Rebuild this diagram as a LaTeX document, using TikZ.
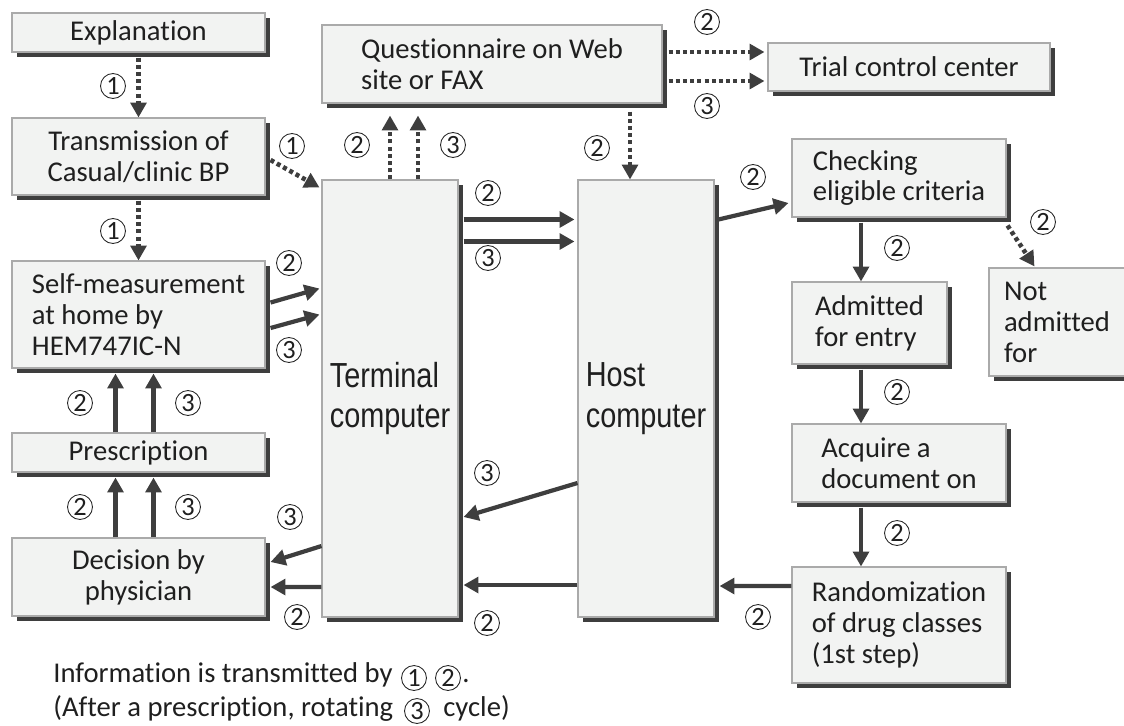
\documentclass[tikz,border=0pt]{standalone}
\usepackage{fontspec}
\setmainfont{Carlito}[Ligatures=NoCommon]
\newfontfamily\narrowfont[FakeStretch=0.83]{Liberation Sans}
\usetikzlibrary{arrows.meta, positioning, calc, shadows}
\definecolor{boxfill}{RGB}{242,243,242}
\definecolor{boxline}{RGB}{170,170,170}
\definecolor{linegray}{RGB}{62,62,62}
\newcommand{\pxu}{0.02cm}

\begin{document}
\begin{tikzpicture}[x=0.02cm, y=-0.02cm]
            \tikzstyle{box} = [draw=boxline, fill=boxfill, line width=0.6pt, align=left, inner sep=0pt, text=black!88, font=\fontsize{16.3}{17.6}\selectfont, drop shadow={shadow xshift=3pt, shadow yshift=-3pt, fill=linegray, opacity=1}]
            \tikzstyle{arr} = [draw=linegray, line width=2.4pt, -{Triangle[length=8.5pt, width=9pt]}]
            \tikzstyle{dotarr} = [arr, line width=2.6pt, dash pattern=on 2.3pt off 1.8pt]
            \tikzstyle{num} = [circle, draw=black!85, line width=0.5pt, inner sep=0pt, minimum size=14.2pt, text=black!88, font=\fontsize{15}{15}\selectfont]
            \tikzstyle{note} = [inner sep=0pt, text=black!88, font=\fontsize{16.3}{17.6}\selectfont]

            \useasboundingbox (0,0) rectangle (1124,725);

            % left column
            \node[box, align=center, minimum width=253*\pxu, minimum height=39*\pxu] (expl) at (138.5,32.5) {Explanation};
            \node[box, align=center, minimum width=253*\pxu, minimum height=77*\pxu] (trans) at (138.5,156.5) {Transmission of\\Casual/clinic BP};
            \node[box, minimum width=253*\pxu, minimum height=107*\pxu] (self) at (138.5,314.5) {Self-measurement\\at home by\\HEM747IC-N};
            \node[box, align=center, minimum width=253*\pxu, minimum height=39*\pxu] (presc) at (138.5,452.5) {Prescription};
            \node[box, align=center, minimum width=253*\pxu, minimum height=78*\pxu] (decis) at (138.5,577) {Decision by\\physician};

            % computers
            \node[box, minimum width=340*\pxu, minimum height=78*\pxu] (quest) at (492,64) {Questionnaire on Web\\site or FAX};
            \node[box, minimum width=136*\pxu, minimum height=437*\pxu, font=\narrowfont\fontsize{19.8}{23}\selectfont] (term) at (390,398.5) {Terminal\\computer};
            \node[box, minimum width=136*\pxu, minimum height=437*\pxu, font=\narrowfont\fontsize{19.8}{23}\selectfont] (host) at (646,398.5) {Host\\computer};

            % right column
            \node[box, align=center, minimum width=282*\pxu, minimum height=48*\pxu] (trial) at (909,67) {Trial control center};
            \node[box, minimum width=214*\pxu, minimum height=78*\pxu] (check) at (899,178) {Checking\\eligible criteria};
            \node[box, minimum width=155*\pxu, minimum height=82*\pxu] (admit) at (869.5,323) {Admitted\\for entry};
            \node[box, inner xsep=15*\pxu, text width=121*\pxu, minimum height=108*\pxu] (notad) at (1064.5,322) {Not\\admitted\\for};
            \node[box, minimum width=214*\pxu, minimum height=78*\pxu] (acq) at (899,463) {Acquire a\\document on};
            \node[box, minimum width=214*\pxu, minimum height=116*\pxu] (rand) at (899,625) {Randomization\\of drug classes\\(1st step)};

            % step 1
            \draw[dotarr] ($(expl.south)+(0,5)$) -- (trans.north);
            \draw[dotarr] ($(trans.south)+(0,5)$) -- (self.north);
            \draw[dotarr] ($(trans.east)+(5,3.5)$) -- ($(term.north west)+(-2,8)$);
            \node[num] (n1a) at (113,86) {1};
            \node[num] (n1b) at (113,231) {1};
            \node[num] (n1c) at (292,146) {1};

            % left column arrows
            \draw[arr] ($(self.east)+(5,-12)$) -- ($(term.west)+(-2,-110)$);
            \draw[arr] ($(self.east)+(5,13.5)$) -- ($(term.west)+(-2,-84)$);
            \draw[arr] ($(presc.north)+(-23,0)$) -- ($(self.south)+(-23,5)$);
            \draw[arr] ($(presc.north)+(15,0)$) -- ($(self.south)+(15,5)$);
            \draw[arr] ($(decis.north)+(-23,0)$) -- ($(presc.south)+(-23,5)$);
            \draw[arr] ($(decis.north)+(15,0)$) -- ($(presc.south)+(15,5)$);
            \draw[arr] ($(term.west)+(0,147.5)$) -- ($(decis.east)+(5,-15)$);
            \draw[arr] ($(term.west)+(0,188.5)$) -- ($(decis.east)+(5,10)$);
            \node[num] (n2a) at (289,263) {2};
            \node[num] (n3a) at (289,350) {3};
            \node[num] (n2b) at (80,403) {2};
            \node[num] (n3b) at (188,403) {3};
            \node[num] (n2c) at (80,507) {2};
            \node[num] (n3c) at (188,507) {3};
            \node[num] (n3d) at (290,517) {3};
            \node[num] (n2d) at (297,617) {2};

            % terminal and host
            \draw[arr] ($(term.north east)+(5,40)$) -- ($(host.north west)+(-3,40)$);
            \draw[arr] ($(term.north east)+(5,62)$) -- ($(host.north west)+(-3,62)$);
            \draw[arr] ($(host.west)+(0,84.5)$) -- ($(term.east)+(5,118.5)$);
            \draw[arr] ($(host.west)+(0,186.5)$) -- ($(term.east)+(5,186.5)$);
            \draw[dotarr] (term.north) -- ($(term.north |- quest.south)+(0,12)$);
            \draw[dotarr] ($(term.north)+(28,0)$) -- ($(term.north |- quest.south)+(28,12)$);
            \draw[dotarr] ($(host.north |- quest.south)+(-16,8)$) -- ($(host.north)+(-16,0)$);
            \draw[dotarr] ($(quest.east)+(6,-12)$) -- ($(trial.west |- quest.east)+(-3,-12)$);
            \draw[dotarr] ($(quest.east)+(6,17)$) -- ($(trial.west |- quest.east)+(-3,17)$);
            \node[num] (n2e) at (488,193) {2};
            \node[num] (n3e) at (488,258) {3};
            \node[num] (n3f) at (487,473) {3};
            \node[num] (n2f) at (487,623) {2};
            \node[num] (n2g) at (357,145) {2};
            \node[num] (n3g) at (453,145) {3};
            \node[num] (n2h) at (597,148) {2};
            \node[num] (n2i) at (707,22) {2};
            \node[num] (n3i) at (707,106) {3};

            % right column arrows
            \draw[arr] ($(host.north east)+(4,40)$) -- ($(check.west)+(-3,25)$);
            \draw[arr] ($(check.south)+(-38,5)$) -- ($(admit.north)+(-8.5,0)$);
            \draw[dotarr] ($(check.south east)+(1,8)$) -- ($(notad.north west)+(46,-1)$);
            \draw[arr] ($(admit.south)+(-8.5,5)$) -- ($(acq.north)+(-38,0)$);
            \draw[arr] ($(acq.south)+(-38,5)$) -- ($(rand.north)+(-38,0)$);
            \draw[arr] ($(rand.west)+(0,-39)$) -- ($(host.east)+(5,187.5)$);
            \node[num] (n2j) at (753,177) {2};
            \node[num] (n2k) at (897,248) {2};
            \node[num] (n2l) at (1043,222) {2};
            \node[num] (n2m) at (897,392) {2};
            \node[num] (n2n) at (897,533) {2};
            \node[num] (n2o) at (758,617) {2};

            % note
            \node[note, anchor=base west] (info) at (53,682) {Information is transmitted by};
            \node[num] (c1) at (414,678) {1};
            \node[num] (c2) at (448,678) {2};
            \node[note, anchor=base west] (stop) at (462,682) {.};
            \node[note, anchor=base west] (after) at (53,716) {(After a prescription, rotating};
            \node[num] (c3) at (417,711) {3};
            \node[note, anchor=base west] (cyc) at (443,716) {cycle)};
        \end{tikzpicture}
\end{document}
